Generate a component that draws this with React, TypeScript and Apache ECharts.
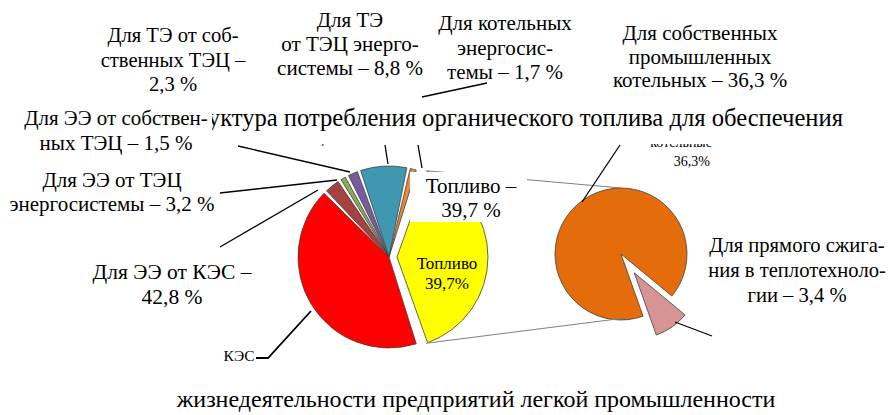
import React, { useEffect, useRef } from 'react';
import * as echarts from 'echarts';

// ---- data ----
const LEFT_NAMES = [
  'Топливо',
  'ЭЭ от КЭС',
  'ЭЭ от ТЭЦ энергосистемы',
  'ЭЭ от собственных ТЭЦ',
  'ТЭ от собственных ТЭЦ',
  'ТЭ от ТЭЦ энергосистемы',
  'Котельные энергосистемы',
];
const LEFT_VALUES = [39.7, 42.8, 3.2, 1.5, 2.3, 8.8, 1.7];
const RIGHT_NAMES = ['Прямое сжигание в теплотехнологии', 'Собственные промышленные котельные'];
const RIGHT_VALUES = [3.4, 36.3];
const TITLE_TOP = 'Структура потребления органического топлива для обеспечения';
const TITLE_BOTTOM = 'жизнедеятельности предприятий легкой промышленности';

// ---- styles ----
const LEFT_COLORS = ['#FFFF00', '#FF0000', '#A5423F', '#8DAA55', '#7A5C9E', '#4098B0', '#E8883A'];
const RIGHT_COLORS = ['#D69494', '#E46C0A'];
const OUTLINE = '#404040';
const SERIF = 'Liberation Serif';

const fmt = (v: number) => v.toFixed(1).replace('.', ',');

export default function App() {
  const ref = useRef<HTMLDivElement>(null);
  useEffect(() => {
    if (!ref.current) return;
    const chart = echarts.init(ref.current, undefined, { renderer: 'svg' });

    const LC = [389, 257];
    const LR = 91;
    const OFF = 8;
    const RC = [621, 254];
    const RR = 66;

    const leftTotal = LEFT_VALUES.reduce((a, b) => a + b, 0);
    const fuelAngle = (LEFT_VALUES[0] / leftTotal) * 360;
    const leftStart = fuelAngle / 2;
    const rightTotal = RIGHT_VALUES.reduce((a, b) => a + b, 0);
    const pinkAngle = (RIGHT_VALUES[0] / rightTotal) * 360;
    const pinkMid = 145; // clockwise from 12 o'clock
    const rightStart = 90 - (pinkMid - pinkAngle / 2);
    const pinkOff = 23;
    const pm = (pinkMid * Math.PI) / 180;

    const leftData = (visible: (i: number) => boolean) =>
      LEFT_VALUES.map((v, i) => ({
        name: LEFT_NAMES[i],
        value: v,
        itemStyle: visible(i)
          ? { color: LEFT_COLORS[i], borderColor: OUTLINE, borderWidth: 0.8 }
          : { color: 'rgba(0,0,0,0)', borderWidth: 0 },
      }));
    const rightData = (visible: (i: number) => boolean) =>
      RIGHT_VALUES.map((v, i) => ({
        name: RIGHT_NAMES[i],
        value: v,
        itemStyle: visible(i)
          ? { color: RIGHT_COLORS[i], borderColor: OUTLINE, borderWidth: 0.8 }
          : { color: 'rgba(0,0,0,0)', borderWidth: 0 },
      }));

    const pieBase = {
      type: 'pie',
      silent: true,
      clockwise: true,
      label: { show: false },
      labelLine: { show: false },
      emphasis: { disabled: true },
      avoidLabelOverlap: false,
    };

    const a1 = ((90 - leftStart) * Math.PI) / 180;
    const a2 = ((90 + leftStart) * Math.PI) / 180;
    const ax = LC[0] + OFF;
    const topPt = [ax + LR * Math.sin(a1), LC[1] - LR * Math.cos(a1)];
    const botPt = [ax + LR * Math.sin(a2), LC[1] - LR * Math.cos(a2)];

    const line = (x1: number, y1: number, x2: number, y2: number, w = 1.3, c = '#000', z = 6) => ({
      type: 'line',
      z,
      silent: true,
      shape: { x1, y1, x2, y2 },
      style: { stroke: c, lineWidth: w },
    });
    const titles: any[] = [];
    const txt = (
      text: string,
      x: number,
      firstMid: number,
      size = 21,
      lh = 24.5,
      align = 'center',
      z = 11
    ) => {
      titles.push({
        text,
        left: x,
        top: firstMid - lh / 2,
        textAlign: align,
        padding: 0,
        itemGap: 0,
        z,
        silent: true,
        textStyle: {
          fontFamily: SERIF,
          fontSize: size,
          fontWeight: 'normal',
          color: '#000',
          lineHeight: lh,
          align,
        },
      });
    };
    const rect = (x: number, y: number, w: number, h: number, z = 10) => ({
      type: 'rect',
      z,
      silent: true,
      shape: { x, y, width: w, height: h },
      style: { fill: '#fff' },
    });

    const v = LEFT_VALUES;
    const graphic: any[] = [
      line(topPt[0], topPt[1], RC[0], RC[1] - RR, 1, '#7f7f7f', 5),
      line(botPt[0], botPt[1], RC[0] + 4, RC[1] + RR - 2, 1, '#7f7f7f', 5),
      line(238, 146, 350, 172),
      line(220, 193, 337, 180),
      line(220, 247, 318, 190),
      {
        type: 'polyline',
        z: 6,
        silent: true,
        shape: { points: [[256, 358], [268, 358], [311, 311]] },
        style: { stroke: '#000', lineWidth: 1.8, fill: null },
      },
      line(385, 145, 388, 164),
      line(418, 145, 422, 168),
      line(422, 97, 487, 83),
      line(620, 145, 582, 202),
      line(675, 322, 712, 336),
      rect(212, 98, 660, 46, 8),
      rect(6, 100, 206, 58, 10),
      rect(410, 172, 117, 50, 10),
    ];

    txt(`${fmt(v[5])}%`, 328, 139, 13, 14, 'center', 7);
    txt('котельные', 712, 142, 14, 14, 'right', 7);
    txt(`${fmt(RIGHT_VALUES[1])}%`, 710, 161, 14, 14, 'right', 7);
    txt('КЭС', 239, 355, 15.5, 15, 'center', 7);
    txt(TITLE_TOP, 843, 117, 24.6, 26, 'right', 9);
    txt(TITLE_BOTTOM, 476, 399, 24, 26, 'center', 9);
    txt(`Для ТЭ от соб-\nственных ТЭЦ –\n${fmt(v[4])} %`, 173, 35, 20.6, 24.5);
    txt(`Для ТЭ\nот ТЭЦ энерго-\nсистемы – ${fmt(v[5])} %`, 350, 20, 21, 24);
    txt(`Для котельных\nэнергосис-\nтемы – ${fmt(v[6])} %`, 505, 23, 21, 24.5);
    txt(`Для собственных\nпромышленных\nкотельных – ${fmt(RIGHT_VALUES[1])} %`, 700, 33, 21, 23.5);
    txt(`Для ЭЭ от собствен-\nных ТЭЦ – ${fmt(v[3])} %`, 116, 118, 21, 25);
    txt(`Для ЭЭ от ТЭЦ\nэнергосистемы – ${fmt(v[2])} %`, 112, 180, 21, 24);
    txt(`Для ЭЭ от КЭС –\n${fmt(v[1])} %`, 172, 272, 21.5, 25);
    txt(`Топливо –\n${fmt(v[0])} %`, 471, 186, 21, 24);
    txt(`Для прямого сжига-\nния в теплотехноло-\nгии – ${fmt(RIGHT_VALUES[0])} %`, 797, 245, 20.6, 25);
    txt(`Топливо\n${fmt(v[0])}%`, 447, 263, 17, 20, 'center', 7);

    chart.setOption({
      animation: false,
      backgroundColor: '#fff',
      textStyle: { fontFamily: SERIF },
      title: titles,
      series: [
        {
          ...pieBase,
          center: LC,
          radius: [0, LR],
          startAngle: leftStart,
          padAngle: 2.2,
          z: 2,
          data: leftData((i) => i !== 0),
        },
        {
          ...pieBase,
          center: [LC[0] + OFF, LC[1]],
          radius: [0, LR],
          startAngle: leftStart,
          padAngle: 2.2,
          z: 2,
          data: leftData((i) => i === 0),
        },
        {
          ...pieBase,
          center: RC,
          radius: [0, RR],
          startAngle: rightStart,
          z: 2,
          data: rightData((i) => i === 1),
        },
        {
          ...pieBase,
          center: [RC[0] + pinkOff * Math.sin(pm), RC[1] - pinkOff * Math.cos(pm)],
          radius: [0, RR],
          startAngle: rightStart,
          z: 2,
          data: rightData((i) => i === 0),
        },
      ],
      graphic,
    });
    return () => chart.dispose();
  }, []);
  return (
    <div
      ref={ref}
      style={{ position: 'fixed', left: 0, top: 0, width: 896, height: 415 }}
    />
  );
}
